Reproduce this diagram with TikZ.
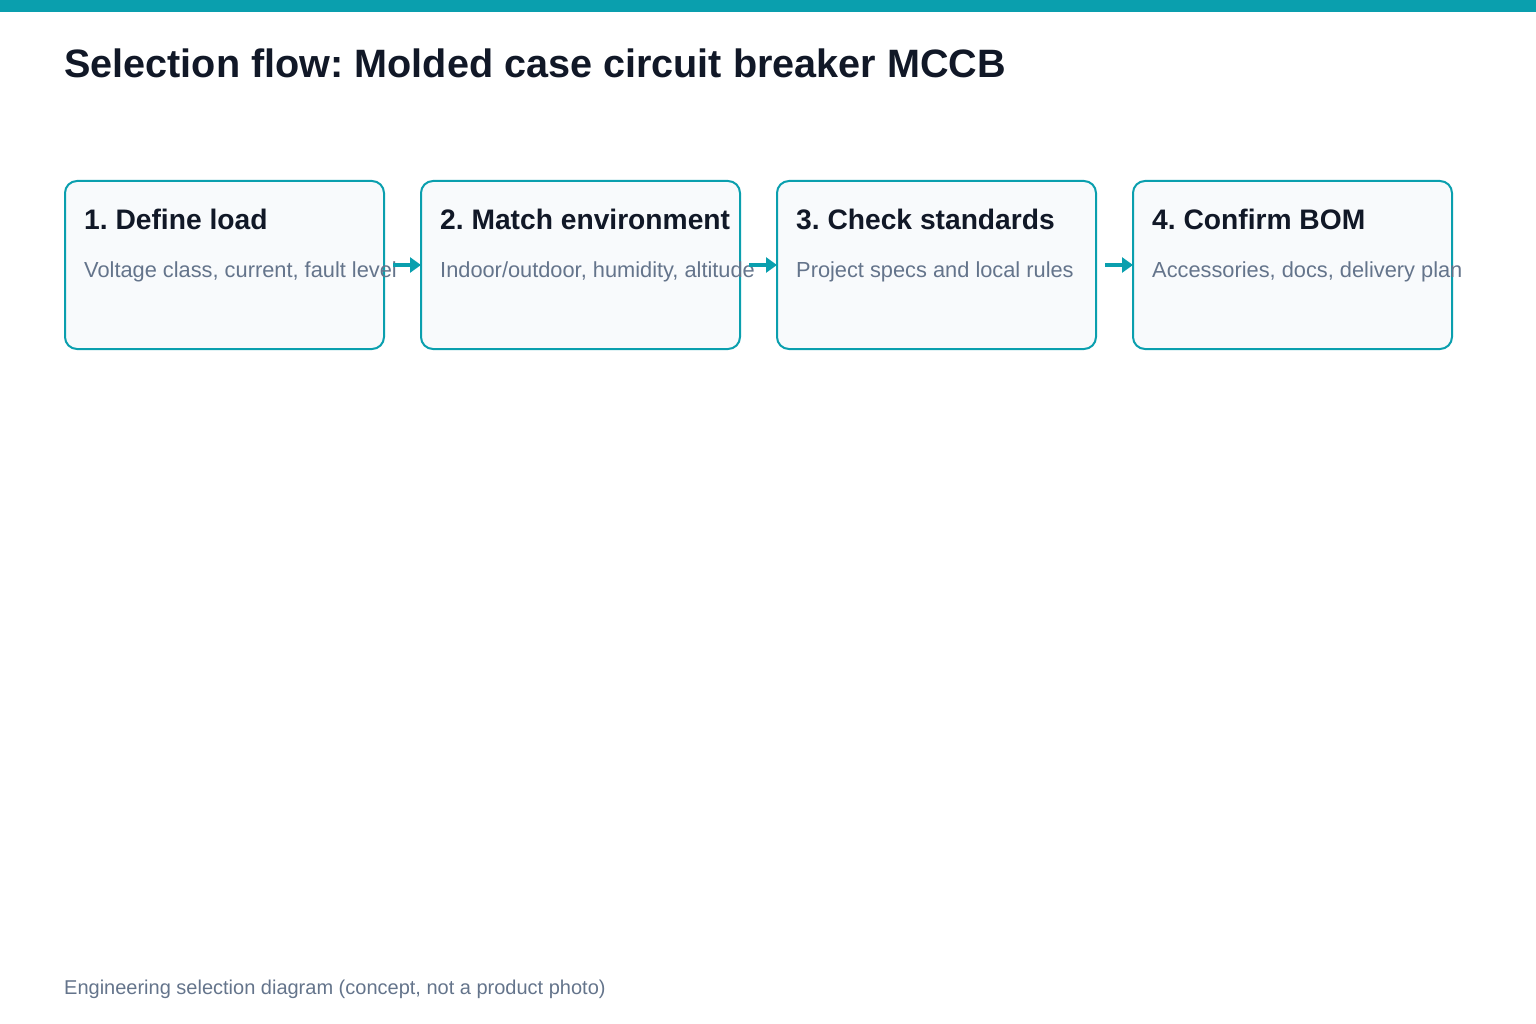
\documentclass[tikz,border=0pt]{standalone}
\usepackage{fontspec}
\setmainfont{Liberation Sans}
\usepackage{xcolor}
\definecolor{tealbar}{HTML}{0A9FAE}
\definecolor{boxfill}{HTML}{F8FAFC}
\definecolor{ink}{HTML}{111827}
\definecolor{slate}{HTML}{64748B}
\usetikzlibrary{
  arrows.meta,
  positioning
}
\frenchspacing

\begin{document}
\begin{tikzpicture}[
  x=1pt, y=-1pt,
  stepbox/.style={draw=tealbar, line width=2pt, fill=boxfill, rounded corners=12pt, minimum width=319pt, minimum height=168pt, inner sep=0pt, outer sep=0pt},
  head/.style={anchor=base west, inner sep=0pt, font=\fontsize{28.2}{33}\selectfont\bfseries, text=ink},
  desc/.style={anchor=base west, inner sep=0pt, font=\fontsize{21.8}{26}\selectfont, text=slate},
  arr/.style={-{Triangle[length=11pt, width=15pt]}, line width=3.5pt, draw=tealbar},
]
\useasboundingbox (0,0) rectangle (1536,1024);

% Top bar and title
\fill[tealbar] (0,0) rectangle (1536,12);
\node[anchor=base west, inner sep=0pt, font=\fontsize{39.6}{48}\selectfont\bfseries, text=ink] (title) at (64,78) {Selection flow: Molded case circuit breaker MCCB};

\node[stepbox] (b1) at (224.5,265) {};
\node[stepbox, right=37pt of b1] (b2) {};
\node[stepbox, right=37pt of b2] (b3) {};
\node[stepbox, right=37pt of b3] (b4) {};

\node[head] (h1) at ([xshift=19pt,yshift=-49pt]b1.north west) {1. Define load};
\node[head] (h2) at ([xshift=19pt,yshift=-49pt]b2.north west) {2. Match environment};
\node[head] (h3) at ([xshift=19pt,yshift=-49pt]b3.north west) {3. Check standards};
\node[head] (h4) at ([xshift=19pt,yshift=-49pt]b4.north west) {4. Confirm BOM};

\node[desc] (d1) at ([xshift=19pt,yshift=-96pt]b1.north west) {Voltage class, current, fault level};
\node[desc] (d2) at ([xshift=19pt,yshift=-96pt]b2.north west) {Indoor/outdoor, humidity, altitude};
\node[desc] (d3) at ([xshift=19pt,yshift=-96pt]b3.north west) {Project specs and local rules};
\node[desc] (d4) at ([xshift=19pt,yshift=-96pt]b4.north west) {Accessories, docs, delivery plan};

\draw[arr] ([xshift=9pt]b1.east) -- (b2.west);
\draw[arr] ([xshift=9pt]b2.east) -- (b3.west);
\draw[arr] ([xshift=9pt]b3.east) -- (b4.west);

% Footer
\node[anchor=base west, inner sep=0pt, font=\fontsize{20}{24}\selectfont, text=slate] (foot) at (64,994) {Engineering selection diagram (concept, not a product photo)};

\end{tikzpicture}
\end{document}
